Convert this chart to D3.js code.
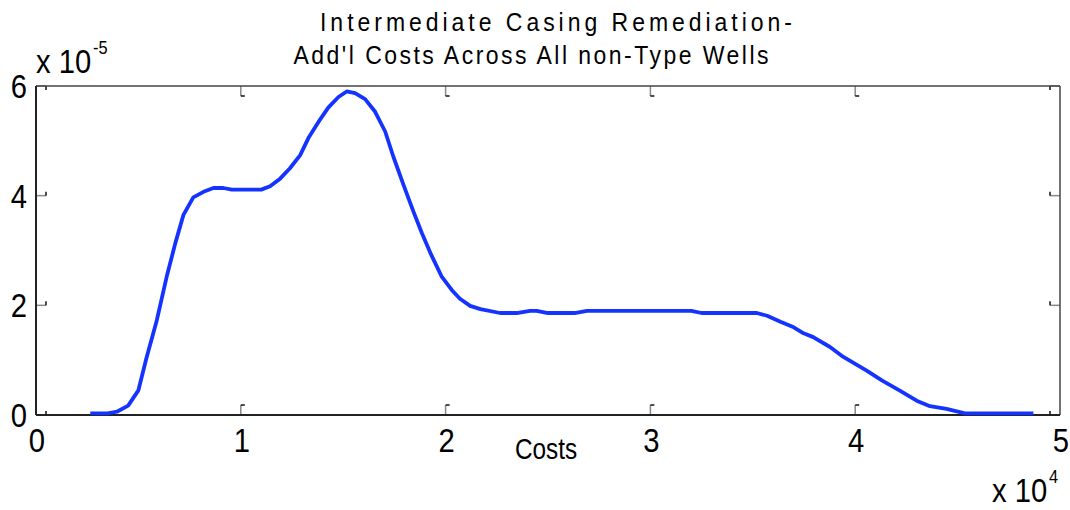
<!DOCTYPE html>
<html>
<head>
<meta charset="utf-8">
<script src="https://cdn.jsdelivr.net/npm/d3@7/dist/d3.min.js"></script>
<style>
    body { margin: 0; background: #fff; }
    svg text { font-family: "Liberation Sans Narrow", "Arial Narrow", "Liberation Sans", sans-serif; fill: #000; }
</style>
</head>
<body>
<svg id="chart" width="1070" height="510"></svg>
<script>
// costs in units of 1e4, density in units of 1e-5 (as the axes show them)
const costs = [0.265, 0.35, 0.395, 0.45, 0.50, 0.54, 0.59, 0.638, 0.68, 0.72, 0.768, 0.818, 0.866, 0.915, 0.956,
    1.10, 1.143, 1.192, 1.24, 1.29, 1.33, 1.38, 1.428, 1.477, 1.517, 1.558, 1.607, 1.656, 1.705, 1.745, 1.794,
    1.843, 1.884, 1.93, 1.98, 2.03, 2.07, 2.12, 2.17, 2.266, 2.347, 2.412, 2.445, 2.50, 2.63, 2.69, 3.20, 3.25,
    3.52, 3.57, 3.635, 3.70, 3.748, 3.795, 3.877, 3.934, 4.056, 4.13, 4.22, 4.30, 4.365, 4.446, 4.536, 4.87];
const density = [0.03, 0.03, 0.06, 0.17, 0.45, 1.05, 1.73, 2.52, 3.13, 3.65, 3.97, 4.07, 4.14, 4.14, 4.11,
    4.11, 4.17, 4.31, 4.50, 4.74, 5.05, 5.35, 5.61, 5.80, 5.90, 5.87, 5.76, 5.53, 5.17, 4.71, 4.20,
    3.71, 3.32, 2.92, 2.53, 2.28, 2.12, 1.99, 1.93, 1.86, 1.86, 1.90, 1.90, 1.86, 1.86, 1.90, 1.90, 1.86,
    1.86, 1.81, 1.70, 1.60, 1.49, 1.42, 1.24, 1.08, 0.81, 0.63, 0.44, 0.26, 0.16, 0.11, 0.03, 0.03];
const xTicks = [0, 1, 2, 3, 4, 5];
const yTicks = [0, 2, 4, 6];
const titleLines = ["Intermediate Casing Remediation-", "Add'l Costs Across All non-Type Wells"];

const svg = d3.select("#chart");
const pLeft = 36, pRight = 1060, pTop = 86, pBottom = 415;

const x = d3.scaleLinear().domain([0, 5]).range([pLeft, pRight]);
const y = d3.scaleLinear().domain([0, 6]).range([pBottom, pTop]);

// no narrow font installed, so squeeze the regular one
const label = (parent, tx, ty, size, anchor, squeeze) =>
    parent.append("text")
        .attr("transform", `translate(${tx},${ty}) scale(${squeeze || 0.86},1)`)
        .attr("font-size", size)
        .attr("text-anchor", anchor || "start");

// inward ticks, matlab style: grey stem with a small dark tip
const ticks = svg.append("g");
[1, 2, 3, 4].forEach(t => {
    [[pBottom, pBottom - 10], [pTop, pTop + 10]].forEach(([a, b]) => {
        ticks.append("line").attr("x1", x(t)).attr("x2", x(t)).attr("y1", a).attr("y2", b)
            .attr("stroke", "#888").attr("stroke-width", 1.5);
        ticks.append("line").attr("x1", x(t)).attr("x2", x(t) + 4).attr("y1", b).attr("y2", b)
            .attr("stroke", "#111").attr("stroke-width", 1.5);
    });
});
yTicks.forEach(t => {
    [[pLeft, pLeft + 10], [pRight, pRight - 10]].forEach(([a, b]) => {
        ticks.append("line").attr("x1", a).attr("x2", b).attr("y1", y(t)).attr("y2", y(t))
            .attr("stroke", "#888").attr("stroke-width", 1.5);
        ticks.append("line").attr("x1", b).attr("x2", b).attr("y1", y(t)).attr("y2", y(t) + (t === 6 ? 4 : -4))
            .attr("stroke", "#111").attr("stroke-width", 1.5);
    });
});

// box
svg.append("line").attr("x1", pLeft).attr("x2", pRight).attr("y1", pTop).attr("y2", pTop)
    .attr("stroke", "#444").attr("stroke-width", 1.5);
svg.append("line").attr("x1", pRight).attr("x2", pRight).attr("y1", pTop).attr("y2", pBottom)
    .attr("stroke", "#444").attr("stroke-width", 1.5);
svg.append("line").attr("x1", pLeft).attr("x2", pRight).attr("y1", pBottom).attr("y2", pBottom)
    .attr("stroke", "#222").attr("stroke-width", 2);
svg.append("line").attr("x1", pLeft).attr("x2", pLeft).attr("y1", pTop).attr("y2", pBottom)
    .attr("stroke", "#222").attr("stroke-width", 2);

// curve
const line = d3.line().x(d => x(d[0])).y(d => y(d[1]));
svg.append("path")
    .datum(d3.zip(costs, density))
    .attr("d", line)
    .attr("fill", "none")
    .attr("stroke", "#1433ff")
    .attr("stroke-width", 3.8)
    .attr("stroke-linejoin", "round");

// tick labels
xTicks.forEach(d => label(svg, x(d) + 1, 452, 34, "middle").text(d));
yTicks.forEach(d => label(svg, 27, y(d) + 12, 34, "end").text(d));

// exponent labels
const yExp = label(svg, 36, 73, 34);
yExp.append("tspan").text("x 10");
yExp.append("tspan").attr("font-size", 19).attr("dy", -19).attr("dx", 2).text("-5");

const xExp = label(svg, 992, 502, 34);
xExp.append("tspan").text("x 10");
xExp.append("tspan").attr("font-size", 19).attr("dy", -19).attr("dx", 2).text("4");

// axis label + title
label(svg, 546, 459, 29, "middle", 0.84).text("Costs");

titleLines.forEach((d, i) => {
    label(svg, i === 0 ? 556 : 531, i === 0 ? 31 : 64, 25, "middle", 0.92)
        .attr("textLength", (i === 0 ? 472 : 475) / 0.92)
        .attr("lengthAdjust", "spacing")
        .text(d);
});
</script>
</body>
</html>
